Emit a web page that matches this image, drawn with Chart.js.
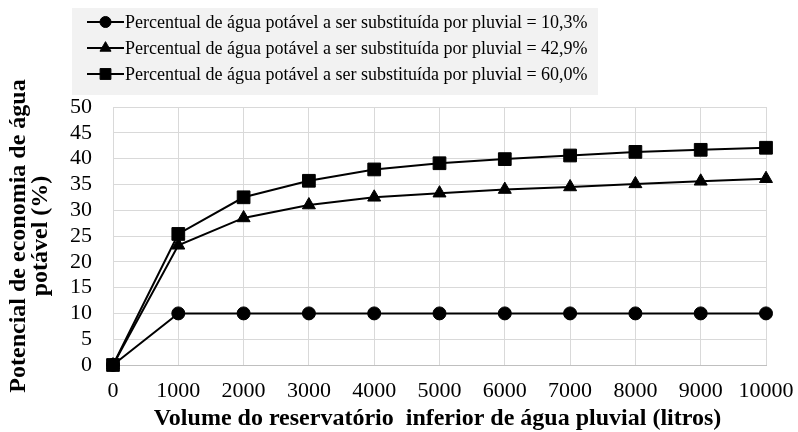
<!DOCTYPE html>
<html>
<head>
<meta charset="utf-8">
<script src="https://cdn.jsdelivr.net/npm/chart.js@4/dist/chart.umd.min.js"></script>
<style>
  html, body { margin: 0; padding: 0; background: #ffffff; }
  #wrap { width: 798px; height: 432px; }
</style>
</head>
<body>
<div id="wrap"><canvas id="c" width="798" height="432"></canvas></div>
<script>
// Reservoir volume (litres)
const volumes = [0, 1000, 2000, 3000, 4000, 5000, 6000, 7000, 8000, 9000, 10000];

// Potable-water saving potential (%) per substitution share
const saving103 = [0, 10, 10, 10, 10, 10, 10, 10, 10, 10, 10];
const saving429 = [0, 23.2, 28.5, 31.0, 32.5, 33.3, 34.0, 34.5, 35.1, 35.6, 36.1];
const saving600 = [0, 25.4, 32.5, 35.7, 37.9, 39.1, 39.9, 40.6, 41.3, 41.7, 42.1];

const seriesLabels = [
  'Percentual de água potável a ser substituída por pluvial = 10,3%',
  'Percentual de água potável a ser substituída por pluvial = 42,9%',
  'Percentual de água potável a ser substituída por pluvial = 60,0%'
];
const markerStyles = ['circle', 'triangle', 'rect'];
const markerRadii = [6.5, 7.5, 9];

const xTitle = 'Volume do reservatório  inferior de água pluvial (litros)';
const yTitle = ['Potencial de economia de água', 'potável (%)'];

const SERIF = '"Liberation Serif", "Times New Roman", serif';

function toPoints(values) {
  return volumes.map((v, i) => ({ x: v, y: values[i] }));
}

const allSeries = [saving103, saving429, saving600];
const datasets = allSeries.map((vals, i) => ({
  label: seriesLabels[i],
  data: toPoints(vals),
  borderColor: '#000000',
  backgroundColor: '#000000',
  borderWidth: 2,
  pointStyle: markerStyles[i],
  pointRadius: markerRadii[i],
  pointBackgroundColor: '#000000',
  pointBorderColor: '#000000',
  pointBorderWidth: 1,
  tension: 0,
  clip: false
}));

// Boxed legend with line-and-marker samples
const boxedLegend = {
  id: 'boxedLegend',
  afterDraw(chart) {
    const ctx = chart.ctx;
    ctx.save();
    ctx.fillStyle = '#f2f2f2';
    ctx.fillRect(72, 8, 526, 87);
    chart.data.datasets.forEach((ds, i) => {
      const y = 22 + 26 * i;
      ctx.strokeStyle = '#000000';
      ctx.lineWidth = 2;
      ctx.beginPath();
      ctx.moveTo(87, y);
      ctx.lineTo(124, y);
      ctx.stroke();
      ctx.fillStyle = '#000000';
      ctx.lineWidth = 1;
      Chart.helpers.drawPoint(ctx, {
        pointStyle: ds.pointStyle,
        rotation: 0,
        radius: ds.pointRadius * 0.85,
        borderWidth: 1
      }, 105.5, y);
      ctx.font = '18px ' + SERIF;
      ctx.textBaseline = 'middle';
      ctx.textAlign = 'left';
      ctx.fillText(ds.label, 125, y + 1);
    });
    ctx.restore();
  }
};

// Axis titles placed beside the plot area
const axisTitles = {
  id: 'axisTitles',
  afterDraw(chart) {
    const ctx = chart.ctx;
    const area = chart.chartArea;
    ctx.save();
    ctx.fillStyle = '#000000';
    ctx.font = 'bold 24px ' + SERIF;
    ctx.textAlign = 'center';
    ctx.textBaseline = 'alphabetic';
    ctx.fillText(xTitle, area.left + (area.right - area.left) / 2 - 2, 425);
    const cy = (area.top + area.bottom) / 2;
    ctx.translate(0, cy);
    ctx.rotate(-Math.PI / 2);
    ctx.textBaseline = 'middle';
    yTitle.forEach((line, i) => {
      ctx.fillText(line, 0, 19 + 22 * i);
    });
    ctx.restore();
  }
};

new Chart(document.getElementById('c'), {
  type: 'line',
  data: { datasets },
  plugins: [boxedLegend, axisTitles],
  options: {
    responsive: false,
    animation: false,
    layout: { padding: { top: 107, right: 4, left: 0, bottom: 0 } },
    plugins: {
      legend: { display: false },
      tooltip: { enabled: false }
    },
    scales: {
      x: {
        type: 'linear',
        min: 0,
        max: 10000,
        afterFit(scale) {
          scale.height = 67;
          scale.paddingRight = 32;
        },
        ticks: {
          stepSize: 1000,
          autoSkip: false,
          maxRotation: 0,
          padding: 13,
          color: '#000000',
          font: { family: SERIF, size: 22 },
          callback: (v) => String(v)
        },
        grid: { color: '#d9d9d9', drawTicks: false },
        border: { color: '#bfbfbf', width: 1 }
      },
      y: {
        min: 0,
        max: 50,
        afterFit(scale) { scale.width = 113; },
        ticks: {
          stepSize: 5,
          autoSkip: false,
          padding: 21,
          color: '#000000',
          font: { family: SERIF, size: 22 }
        },
        grid: { color: '#d9d9d9', drawTicks: false },
        border: { color: '#d9d9d9', width: 1 }
      }
    }
  }
});
</script>
</body>
</html>
